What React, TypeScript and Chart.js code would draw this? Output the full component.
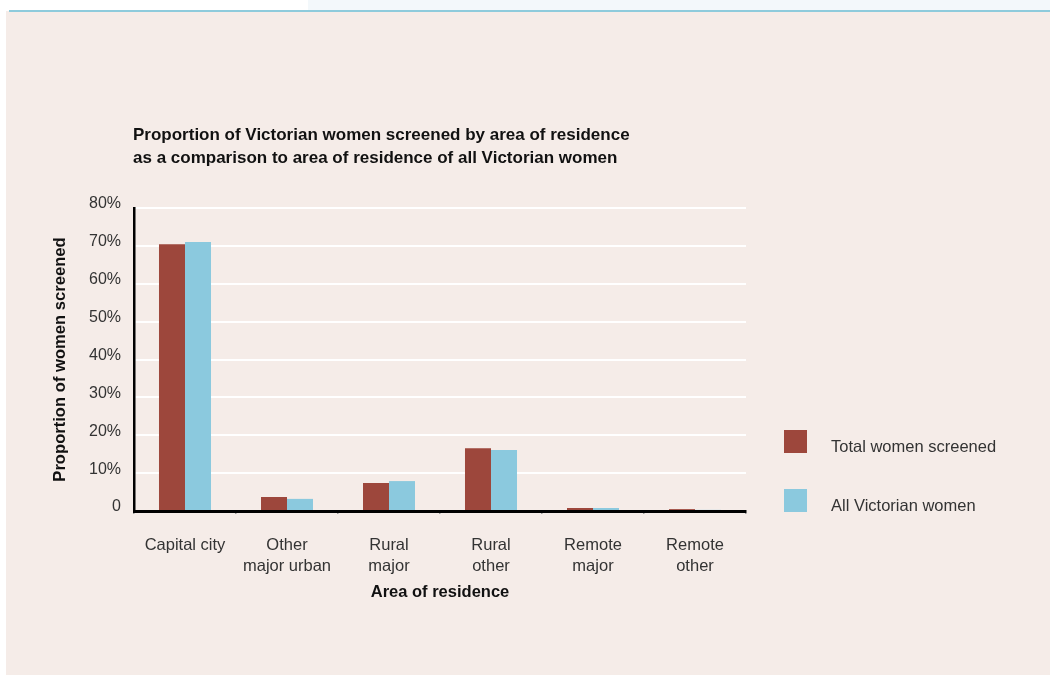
import React, { useEffect, useRef } from "react";
import { Chart, registerables } from "chart.js";

Chart.register(...registerables);

const categories: string[][] = [
  ["Capital city"],
  ["Other", "major urban"],
  ["Rural", "major"],
  ["Rural", "other"],
  ["Remote", "major"],
  ["Remote", "other"],
];
const seriesNames = ["Total women screened", "All Victorian women"];
const totalScreened = [70.4, 3.7, 7.4, 16.6, 0.8, 0.5];
const allVictorian = [71.0, 3.2, 7.9, 16.1, 0.8, 0.3];
const seriesColors = ["#9d473c", "#8bc9de"];
const yTicks = [0, 10, 20, 30, 40, 50, 60, 70, 80];
const titleLines = [
  "Proportion of Victorian women screened by area of residence",
  "as a comparison to area of residence of all Victorian women",
];
const xTitle = "Area of residence";
const yTitle = "Proportion of women screened";

const FONT = "'Liberation Sans', Arial, sans-serif";

export default function App() {
  const ref = useRef<HTMLCanvasElement | null>(null);

  useEffect(() => {
    if (!ref.current) return;
    const chart = new Chart(ref.current, {
      type: "bar",
      data: {
        labels: categories,
        datasets: [
          {
            label: seriesNames[0],
            data: totalScreened,
            backgroundColor: seriesColors[0],
            borderWidth: 0,
          },
          {
            label: seriesNames[1],
            data: allVictorian,
            backgroundColor: seriesColors[1],
            borderWidth: 0,
          },
        ],
      },
      options: {
        animation: false,
        responsive: false,
        maintainAspectRatio: false,
        layout: { padding: { left: 0, right: 304, top: 208, bottom: 0 } },
        datasets: {
          bar: { barPercentage: 1, categoryPercentage: 0.51 },
        },
        plugins: {
          legend: { display: false },
          tooltip: { enabled: false },
          title: { display: false },
        },
        scales: {
          x: {
            afterFit: (s: any) => {
              s.height = 164;
            },
            grid: {
              display: true,
              drawOnChartArea: false,
              drawTicks: true,
              tickLength: 3,
              color: "#9a9a9a",
              lineWidth: 1.5,
              offset: true,
            },
            border: { display: true, color: "#000", width: 3 },
            ticks: {
              color: "#333",
              font: { family: FONT, size: 16.5, lineHeight: 1.33 },
              padding: 20,
              maxRotation: 0,
              autoSkip: false,
            },
            title: {
              display: true,
              text: xTitle,
              color: "#111",
              font: { family: FONT, size: 16.5, weight: "bold", lineHeight: 1.2 },
              padding: { top: 0, bottom: 73 },
            },
          },
          y: {
            min: 0,
            max: 80,
            afterFit: (s: any) => {
              s.width = 134;
            },
            afterBuildTicks: (s: any) => {
              s.ticks = yTicks.map((v) => ({ value: v }));
            },
            grid: {
              color: "#ffffff",
              lineWidth: 2,
              drawTicks: false,
            },
            border: { display: true, color: "#000", width: 2.5 },
            ticks: {
              color: "#333",
              font: { family: FONT, size: 16 },
              padding: 13,
              labelOffset: -4,
              callback: (v: any) => (Number(v) === 0 ? "0" : v + "%"),
            },
            title: {
              display: true,
              text: yTitle,
              color: "#111",
              font: { family: FONT, size: 16.6, weight: "bold", lineHeight: 1.2 },
              padding: { top: 50, bottom: 0 },
            },
          },
        },
      },
    });
    return () => chart.destroy();
  }, []);

  return (
    <div
      style={{
        position: "fixed",
        left: 0,
        top: 0,
        width: 1050,
        height: 675,
        background: "#ffffff",
        overflow: "hidden",
        fontFamily: FONT,
      }}
    >
      <div
        style={{
          position: "absolute",
          left: 308,
          top: 0,
          width: 742,
          height: 10,
          background: "#f3f8fb",
        }}
      />
      <div
        style={{
          position: "absolute",
          left: 6,
          top: 11,
          width: 1044,
          height: 664,
          background: "#f5ece8",
        }}
      />
      <div
        style={{
          position: "absolute",
          left: 9,
          top: 10,
          width: 1041,
          height: 2,
          background: "#8ecbdc",
        }}
      />
      <canvas
        ref={ref}
        width={1050}
        height={675}
        style={{ position: "absolute", left: 0, top: 0, width: 1050, height: 675 }}
      />
      <div
        style={{
          position: "absolute",
          left: 133,
          top: 123,
          fontSize: 17,
          fontWeight: "bold",
          lineHeight: "23px",
          color: "#111",
          whiteSpace: "nowrap",
        }}
      >
        {titleLines.map((t, i) => (
          <div key={i}>{t}</div>
        ))}
      </div>
      {seriesNames.map((name, i) => (
        <div key={name}>
          <div
            style={{
              position: "absolute",
              left: 784,
              top: 430 + i * 59,
              width: 23,
              height: 23,
              background: seriesColors[i],
            }}
          />
          <div
            style={{
              position: "absolute",
              left: 831,
              top: 436 + i * 59,
              fontSize: 16.5,
              lineHeight: "20px",
              color: "#333",
              whiteSpace: "nowrap",
            }}
          >
            {name}
          </div>
        </div>
      ))}
    </div>
  );
}
